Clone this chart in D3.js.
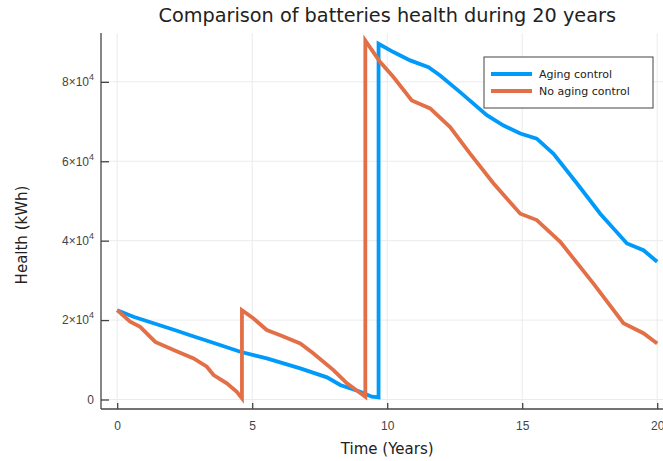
<!DOCTYPE html>
<html>
<head>
<meta charset="utf-8">
<script src="https://cdn.jsdelivr.net/npm/d3@7"></script>
<style>
  html, body { margin: 0; padding: 0; background: #fff; }
  svg { display: block; font-family: "DejaVu Sans", sans-serif; }
</style>
</head>
<body>
<svg id="chart" width="663" height="461"></svg>
<script>
// ---- data ----
const seriesNames = ["Aging control", "No aging control"];
const agingYears = [0, 0.6, 2.21, 2.7, 3.44, 4.56, 5.54, 6.78, 7.77, 8.26, 9.0, 9.43, 9.68,
  9.68, 10.23, 10.85, 11.53, 11.96, 12.7, 13.69, 14.31, 14.93, 15.54, 16.16, 17.03, 17.89, 18.88, 19.49, 20];
const agingHealth = [22500, 20830, 17300, 16200, 14540, 12030, 10360, 7850, 5580, 3650, 1960, 700, 550,
  89600, 87500, 85400, 83700, 81600, 77400, 71600, 69000, 67000, 65700, 61900, 54400, 46800, 39300, 37600, 34700];
const noAgingYears = [0, 0.48, 0.85, 1.41, 2.09, 2.83, 3.32, 3.57, 4.06, 4.43, 4.62,
  4.62, 5.05, 5.54, 6.04, 6.78, 7.27, 8.01, 8.51, 9.19,
  9.19, 9.74, 10.23, 10.91, 11.59, 12.33, 13.07, 13.94, 14.93, 15.54, 16.41, 17.64, 18.75, 19.49, 20];
const noAgingHealth = [22500, 19600, 18300, 14500, 12450, 10360, 8250, 6160, 4080, 1960, 300,
  22500, 20400, 17500, 16200, 14100, 11600, 7400, 4080, 700,
  90400, 85000, 81200, 75300, 73300, 68600, 61900, 54400, 46800, 45200, 39700, 29200, 19200, 16700, 14100];
const xTicks = [0, 5, 10, 15, 20];
const yTicks = [0, 20000, 40000, 60000, 80000];
const yTickMantissa = ["0", "2", "4", "6", "8"];
const titleText = "Comparison of batteries health during 20 years";
const xLabel = "Time (Years)";
const yLabel = "Health (kWh)";
const colors = ["#009AFA", "#E36F47"];

// ---- layout ----
const svg = d3.select("#chart");
const pLeft = 101, pRight = 673.4, pTop = 33, pBottom = 409;
const x = d3.scaleLinear().domain([-0.6, 20.6]).range([pLeft, pRight]);
const y = d3.scaleLinear().domain([-2390, 92300]).range([pBottom, pTop]);

// grid
const grid = svg.append("g").attr("stroke", "#ebebeb").attr("stroke-width", 1);
grid.selectAll("line.gx").data(xTicks).join("line").attr("class", "gx")
  .attr("x1", d => x(d)).attr("x2", d => x(d)).attr("y1", pTop).attr("y2", pBottom);
grid.selectAll("line.gy").data(yTicks).join("line").attr("class", "gy")
  .attr("y1", d => y(d)).attr("y2", d => y(d)).attr("x1", pLeft).attr("x2", pRight);

// axes
const xAxis = d3.axisBottom(x).tickValues(xTicks).tickSizeInner(-6).tickSizeOuter(0).tickPadding(12)
  .tickFormat(d3.format("d"));
const gx = svg.append("g").attr("transform", `translate(0,${pBottom})`).call(xAxis);
gx.select(".domain").attr("stroke", "#444").attr("stroke-width", 1.3).attr("d", `M${pLeft},0H${pRight}`);
gx.selectAll(".tick line").attr("stroke", "#444").attr("stroke-width", 1.3);
gx.selectAll(".tick text").attr("font-size", 12).attr("fill", "#444");

const yAxis = d3.axisLeft(y).tickValues(yTicks).tickSizeInner(-8).tickSizeOuter(0).tickPadding(14)
  .tickFormat(() => "");
const gy = svg.append("g").attr("transform", `translate(${pLeft},0)`).call(yAxis);
gy.select(".domain").attr("stroke", "#444").attr("stroke-width", 1.3).attr("d", `M0,${pTop}V${pBottom}`);
gy.selectAll(".tick line").attr("stroke", "#444").attr("stroke-width", 1.3);
gy.selectAll(".tick text").each(function(d, i) {
  const t = d3.select(this).attr("font-size", 12).attr("fill", "#444").attr("x", -7);
  if (d === 0) { t.append("tspan").text(yTickMantissa[i]); return; }
  t.append("tspan").text(yTickMantissa[i] + "\u00d710");
  t.append("tspan").attr("dy", -6).attr("font-size", 9).text("4");
});

// lines
const line = d3.line().x(d => x(d[0])).y(d => y(d[1]));
const series = [
  d3.zip(agingYears, agingHealth),
  d3.zip(noAgingYears, noAgingHealth)
];
svg.append("g").selectAll("path").data(series).join("path")
  .attr("d", line).attr("fill", "none")
  .attr("stroke", (d, i) => colors[i]).attr("stroke-width", 3.8)
  .attr("stroke-linejoin", "miter");

// title
const title = svg.append("text").attr("x", (pLeft + pRight) / 2).attr("y", 22)
  .attr("text-anchor", "middle").attr("fill", "#222").attr("font-size", 20).text(titleText);
const tw = title.node().getComputedTextLength();
title.attr("font-size", 20 * 458 / tw);

// axis labels
svg.append("text").attr("x", (pLeft + pRight) / 2).attr("y", 454)
  .attr("text-anchor", "middle").attr("fill", "#222").attr("font-size", 15).text(xLabel);
svg.append("text").attr("transform", `translate(27,${(pTop + pBottom) / 2 + 14}) rotate(-90)`)
  .attr("text-anchor", "middle").attr("fill", "#222").attr("font-size", 15).text(yLabel);

// legend
const lg = svg.append("g");
lg.append("rect").attr("x", 484).attr("y", 57).attr("width", 169).attr("height", 51)
  .attr("fill", "#fff").attr("stroke", "#444").attr("stroke-width", 1);
seriesNames.forEach((name, i) => {
  const yy = 74 + i * 17;
  lg.append("line").attr("x1", 491).attr("x2", 532).attr("y1", yy).attr("y2", yy)
    .attr("stroke", colors[i]).attr("stroke-width", 4);
  lg.append("text").attr("x", 539).attr("y", yy + 4).attr("font-size", 11)
    .attr("fill", "#222").text(name);
});
</script>
</body>
</html>
